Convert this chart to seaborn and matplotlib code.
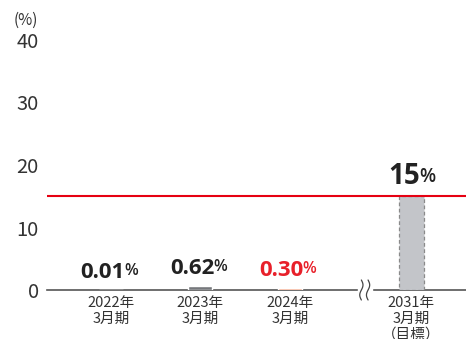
import numpy as np
import pandas as pd
import matplotlib
matplotlib.use("Agg")
import matplotlib.pyplot as plt
import seaborn as sns

# ---- data ----
categories = ["2022年\n3月期", "2023年\n3月期", "2024年\n3月期", "2031年\n3月期\n（目標）"]
positions = [0.0, 1.0, 2.0, 3.36]
values = [0.01, 0.62, 0.30, 15.0]
value_labels = ["0.01", "0.62", "0.30", "15"]
bar_colors = ["#5a5a5a", "#76787c", "#f2a384", "#c3c5c9"]
label_colors = ["#222222", "#222222", "#e8202a", "#222222"]
target_value = 15.0
yticks = [0, 10, 20, 30, 40]

sns.set_style("white")
plt.rcParams["font.family"] = ["Noto Sans CJK JP", "DejaVu Sans"]

df = pd.DataFrame({"pos": positions, "val": values, "cat": categories})

fig = plt.figure(figsize=(4.66, 3.39), dpi=100)
ax = fig.add_axes([47 / 466, 49 / 339, 1 - 47 / 466, 250 / 339])

sns.barplot(data=df, x="pos", y="val", hue="cat", native_scale=True,
            palette=dict(zip(categories, bar_colors)), width=0.27,
            dodge=False, legend=False, ax=ax, saturation=1)

# dashed edge on target bar; bars above spine
for p in ax.patches:
    p.set_zorder(3)
    if abs(p.get_height() - target_value) < 1e-6:
        p.set_edgecolor("#8a8a8a")
        p.set_linestyle((0, (3, 2)))
        p.set_linewidth(0.9)

ax.set_xlim(-0.715, 3.97)
ax.set_ylim(0, 40)
ax.set_yticks(yticks)
ax.set_yticklabels([str(t) for t in yticks], fontsize=14.5, color="#333333")
ax.set_xticks(positions)
ax.set_xticklabels(categories, fontsize=10.5, color="#333333", linespacing=1.18)
ax.tick_params(axis="both", length=0)
ax.tick_params(axis="y", pad=6)
ax.tick_params(axis="x", pad=4)
ax.set_xlabel("")
ax.set_ylabel("")
for s in ["left", "right", "top"]:
    ax.spines[s].set_visible(False)
ax.spines["bottom"].set_color("#555555")
ax.spines["bottom"].set_linewidth(1.2)
ax.spines["bottom"].set_zorder(2)

# target line
ax.axhline(target_value, color="#e60012", linewidth=1.5, zorder=4)

# value labels
for x, v, lab, c in zip(positions, values, value_labels, label_colors):
    big = v >= 10
    fs_num = 20 if big else 16
    fs_pct = 13.5 if big else 11.5
    t = ax.annotate(lab, xy=(x, v), xytext=(-5 if big else -6, 8.5),
                    textcoords="offset points", ha="center", va="baseline",
                    fontsize=fs_num, fontweight="bold", color=c,
                    family=["Open Sans", "DejaVu Sans"])
    ax.annotate("%", xy=(1, 0), xycoords=t, xytext=(-0.6, 3.5 if big else 3),
                textcoords="offset points", ha="left", va="bottom",
                fontsize=fs_pct, fontweight="semibold", color=c,
                family=["Open Sans", "DejaVu Sans"])

# "(%)" unit label
fig.text(14 / 466, 1 - 25 / 339, "(%)", fontsize=11, color="#333333")

# axis break symbol
xb0, xb1 = 2.765, 2.915
ax.fill_between([xb0, xb1], -0.4, 0.4, color="white", zorder=5, clip_on=False)
t = np.linspace(-1, 1, 50)
for xc in [2.80, 2.875]:
    ax.plot(xc + 0.018 * np.sin(np.pi * t), 1.6 * t, color="#444444",
            linewidth=0.9, clip_on=False, zorder=6)

fig.savefig("out.png", dpi=100)
